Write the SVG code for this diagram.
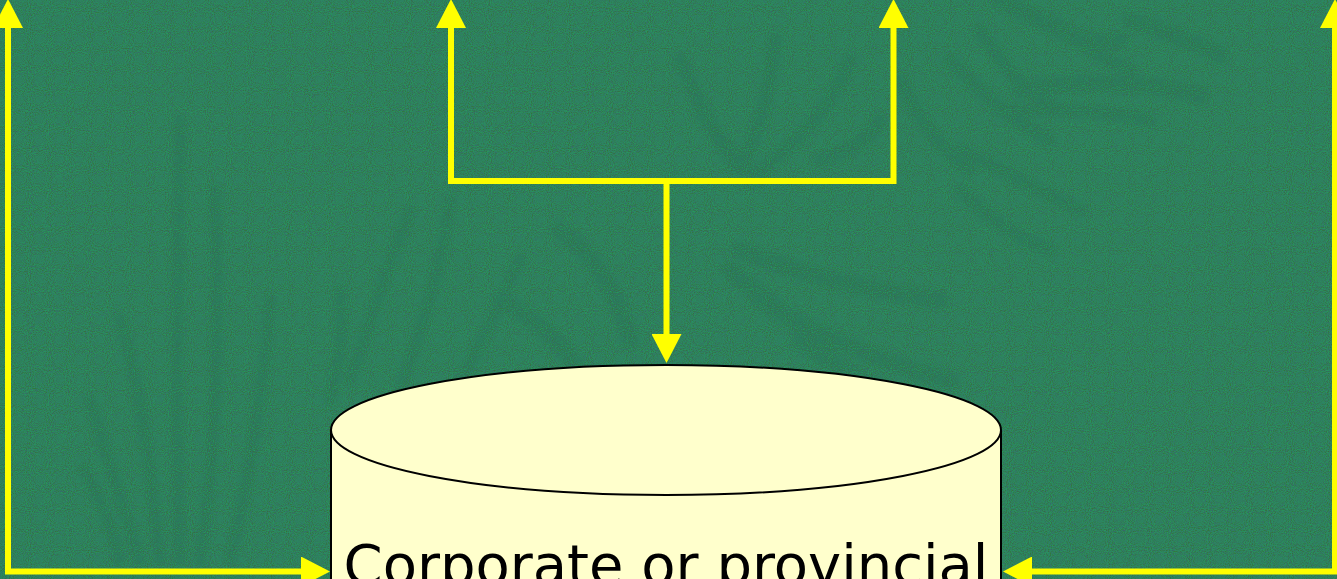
<svg xmlns="http://www.w3.org/2000/svg" width="1337" height="579" viewBox="0 0 1337 579">
  <style>
    .link { fill: none; stroke: #ffff00; stroke-width: 6; stroke-linejoin: miter; }
    .leaf { fill: none; stroke: #1f5a4a; stroke-linecap: round; stroke-linejoin: round; }
    .db { fill: #ffffcc; stroke: #000000; stroke-width: 2; }
    .label { font-family: "DejaVu Sans", Verdana, sans-serif; font-size: 56px; fill: #000000; }
  </style>
  <defs>
    <!-- speckled grain for the backdrop: teal flecks and bright green flecks -->
    <filter id="grain" x="0" y="0" width="100%" height="100%" color-interpolation-filters="sRGB">
      <feTurbulence type="fractalNoise" baseFrequency="0.95" numOctaves="1" seed="7" result="n"/>
      <feColorMatrix in="n" type="matrix" values="0 0 0 0 0.22  0 0 0 0 0.40  0 0 0 0 0.42  3.2 0 0 0 -1.45"/>
    </filter>
    <filter id="grain2" x="0" y="0" width="100%" height="100%" color-interpolation-filters="sRGB">
      <feTurbulence type="fractalNoise" baseFrequency="0.95" numOctaves="1" seed="21" result="n"/>
      <feColorMatrix in="n" type="matrix" values="0 0 0 0 0.15  0 0 0 0 0.60  0 0 0 0 0.36  0 3.2 0 0 -1.45"/>
    </filter>
    <filter id="grain3" x="0" y="0" width="100%" height="100%" color-interpolation-filters="sRGB">
      <feTurbulence type="fractalNoise" baseFrequency="0.95" numOctaves="1" seed="43" result="n"/>
      <feColorMatrix in="n" type="matrix" values="0 0 0 0 0.20  0 0 0 0 0.45  0 0 0 0 0.22  0 0 3.0 0 -1.45"/>
    </filter>
    <filter id="soft" x="-10%" y="-10%" width="120%" height="120%">
      <feGaussianBlur stdDeviation="2.5"/>
    </filter>
    <marker id="head" viewBox="0 0 29 30" markerUnits="userSpaceOnUse" markerWidth="29" markerHeight="30" refX="0" refY="15" orient="auto-start-reverse">
      <path d="M0,0 L29,15 L0,30 Z" fill="#ffff00"/>
    </marker>
  </defs>

  <!-- backdrop -->
  <g id="backdrop">
    <rect width="1337" height="579" fill="#2d8262"/>
    <!-- faint foliage -->
    <g filter="url(#soft)" opacity="0.2">
      <g class="leaf" stroke-width="12">
        <path d="M180 560 C175 420 178 260 180 120"/>
        <path d="M160 560 C150 470 140 380 120 320"/>
        <path d="M200 560 C215 460 220 360 215 190"/>
        <path d="M140 560 C120 500 105 450 90 400"/>
        <path d="M230 560 C250 470 265 380 270 300"/>
        <path d="M120 560 C110 520 100 500 85 470"/>
        <path d="M350 380 C370 320 390 260 410 210"/>
        <path d="M400 390 C420 330 440 280 450 200"/>
        <path d="M330 400 C340 360 345 330 340 290"/>
        <path d="M450 400 C480 350 500 300 520 260"/>
      </g>
      <g class="leaf" stroke-width="14">
        <path d="M740 170 C760 130 770 90 775 40"/>
        <path d="M760 170 C800 140 830 110 850 60"/>
        <path d="M700 110 C720 140 735 160 760 175"/>
        <path d="M680 60 C700 100 710 130 740 170"/>
        <path d="M820 160 C850 150 870 140 880 120"/>
        <path d="M900 80 C920 120 940 150 970 170"/>
        <path d="M950 60 C980 90 1010 120 1050 140"/>
        <path d="M960 150 C1000 170 1040 190 1080 210"/>
        <path d="M1000 110 C1060 110 1110 110 1150 120"/>
        <path d="M980 30 C1000 60 1020 90 1060 110"/>
        <path d="M1050 20 C1080 40 1100 60 1130 70"/>
        <path d="M960 190 C990 220 1020 240 1050 250"/>
      </g>
      <g class="leaf" stroke-width="18">
        <path d="M740 250 C790 270 860 290 940 300"/>
        <path d="M760 300 C810 330 870 360 950 380"/>
        <path d="M800 340 C840 370 890 400 960 415"/>
        <path d="M730 270 C770 300 800 330 830 345"/>
        <path d="M1000 0 C1060 30 1090 50 1120 40"/>
        <path d="M1130 20 C1160 30 1190 40 1220 55"/>
        <path d="M1020 90 C1080 80 1140 80 1200 95"/>
        <path d="M560 230 C600 260 620 300 630 340"/>
        <path d="M500 300 C540 320 570 350 590 390"/>
      </g>
    </g>
    <rect width="1337" height="579" filter="url(#grain)"/>
    <rect width="1337" height="579" filter="url(#grain2)"/>
    <rect width="1337" height="579" filter="url(#grain3)"/>
  </g>

  <!-- connectors -->
  <g id="connectors">
    <path class="link" d="M8 28 V571.5 H301" marker-start="url(#head)" marker-end="url(#head)"/>
    <path class="link" d="M1335 28 V571.5 H1032" marker-start="url(#head)" marker-end="url(#head)"/>
    <path class="link" d="M451 28 V181 H893.5 V28" marker-start="url(#head)" marker-end="url(#head)"/>
    <path class="link" d="M666.5 181 V334" marker-end="url(#head)"/>
  </g>

  <!-- data store -->
  <g id="store">
    <path class="db" d="M331 430 V600 H1001 V430"/>
    <ellipse class="db" cx="666" cy="430" rx="335" ry="65"/>
    <text class="label" x="666" y="584" text-anchor="middle">Corporate or provincial</text>
  </g>
</svg>
